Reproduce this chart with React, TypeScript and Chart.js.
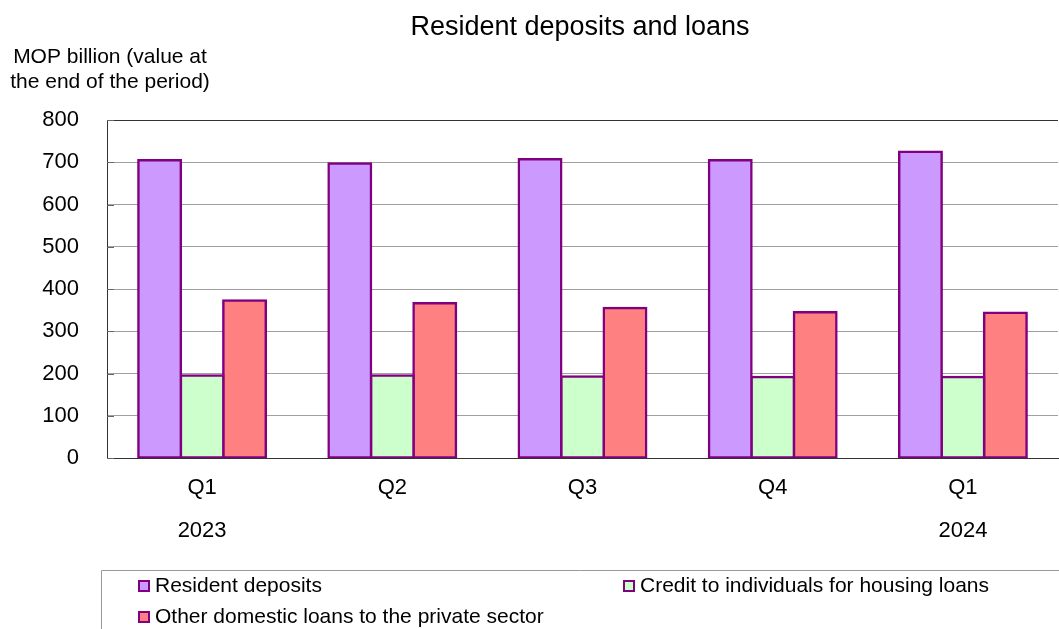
import React, { useEffect, useRef } from "react";
import { Chart, registerables } from "chart.js";

Chart.register(...registerables);

const quarters = ["Q1", "Q2", "Q3", "Q4", "Q1"];
const years = ["2023", "", "", "", "2024"];
const residentDeposits = [705, 697, 707, 705, 725];
const housingLoans = [195, 195, 193, 192, 192];
const otherLoans = [373, 366, 355, 345, 344];
const yTicks = [0, 100, 200, 300, 400, 500, 600, 700, 800];

const FONT = "'Liberation Sans', Arial, sans-serif";
const BORDER = "#800080";

const overlayPlugin = {
  id: "overlay",
  afterDraw(chart: any) {
    const ctx = chart.ctx;
    const area = chart.chartArea;
    const yScale = chart.scales.y;
    ctx.save();
    // inner tick marks on y axis
    ctx.strokeStyle = "#666666";
    ctx.lineWidth = 1;
    yTicks.forEach((v) => {
      const y = Math.round(yScale.getPixelForValue(v)) + 0.5;
      ctx.beginPath();
      ctx.moveTo(area.left, y);
      ctx.lineTo(area.left + 7, y);
      ctx.stroke();
    });
    // title
    ctx.fillStyle = "#000";
    ctx.textAlign = "center";
    ctx.textBaseline = "middle";
    ctx.font = `27px ${FONT}`;
    ctx.fillText("Resident deposits and loans", 580, 28);
    // y axis title
    ctx.font = `21px ${FONT}`;
    ctx.fillText("MOP billion (value at", 110, 57);
    ctx.fillText("the end of the period)", 110, 82);
    // legend box
    ctx.strokeStyle = "#999999";
    ctx.lineWidth = 1;
    ctx.beginPath();
    ctx.moveTo(101.5, 640);
    ctx.lineTo(101.5, 570.5);
    ctx.lineTo(1070, 570.5);
    ctx.stroke();
    const items = [
      { x: 138, y: 580 },
      { x: 623, y: 580 },
      { x: 138, y: 611 },
    ];
    chart.data.datasets.forEach((ds: any, i: number) => {
      const it = items[i];
      ctx.fillStyle = ds.backgroundColor;
      ctx.fillRect(it.x, it.y, 12, 12);
      ctx.strokeStyle = BORDER;
      ctx.lineWidth = 2;
      ctx.strokeRect(it.x + 1, it.y + 1, 10, 10);
      ctx.fillStyle = "#000";
      ctx.textAlign = "left";
      ctx.textBaseline = "middle";
      ctx.font = `21px ${FONT}`;
      ctx.fillText(ds.label, it.x + 17, it.y + 6);
    });
    ctx.restore();
  },
};

export default function App() {
  const ref = useRef<HTMLCanvasElement | null>(null);
  useEffect(() => {
    if (!ref.current) return;
    Chart.defaults.font.family = FONT;
    const labels = quarters.map((q, i) => [q, years[i]]);
    const barStyle = {
      borderColor: BORDER,
      borderWidth: 2.5,
      borderSkipped: false,
      inflateAmount: 1.25,
    };
    const chart = new Chart(ref.current, {
      type: "bar",
      data: {
        labels,
        datasets: [
          {
            label: "Resident deposits",
            data: residentDeposits,
            backgroundColor: "#CC99FF",
            ...barStyle,
          },
          {
            label: "Credit to individuals for housing loans",
            data: housingLoans,
            backgroundColor: "#CCFFCC",
            ...barStyle,
          },
          {
            label: "Other domestic loans to the private sector",
            data: otherLoans,
            backgroundColor: "#FF8080",
            ...barStyle,
          },
        ],
      },
      options: {
        animation: false,
        responsive: false,
        layout: { padding: { top: 120, left: 0, right: 1, bottom: 0 } },
        plugins: {
          legend: { display: false },
          title: { display: false },
          tooltip: { enabled: false },
        },
        datasets: {
          bar: { categoryPercentage: 0.67, barPercentage: 1.0 },
        },
        scales: {
          x: {
            grid: { display: false, drawTicks: false },
            border: { display: true, color: "#333333", width: 1 },
            ticks: {
              color: "#000",
              font: { size: 22, lineHeight: 1.97 },
              padding: 8,
              maxRotation: 0,
              autoSkip: false,
            },
            afterFit(scale: any) {
              scale.height = 171;
            },
          },
          y: {
            min: 0,
            max: 800,
            grid: {
              drawTicks: false,
              color: (c: any) => (c.tick && c.tick.value === 800 ? "#333333" : "#a0a0a0"),
              lineWidth: 1,
            },
            border: { display: true, color: "#333333", width: 1 },
            ticks: {
              stepSize: 100,
              color: "#000",
              font: { size: 22 },
              padding: 28,
            },
            afterFit(scale: any) {
              scale.width = 107;
            },
          },
        },
      },
      plugins: [overlayPlugin],
    } as any);
    return () => chart.destroy();
  }, []);
  return (
    <div style={{ position: "absolute", left: 0, top: 0, width: 1059, height: 629 }}>
      <canvas ref={ref} width={1059} height={629} />
    </div>
  );
}
